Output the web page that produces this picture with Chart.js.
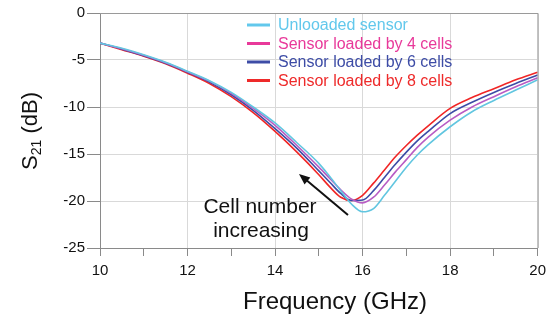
<!DOCTYPE html>
<html>
<head>
<meta charset="utf-8">
<script src="https://cdn.jsdelivr.net/npm/chart.js@4.4.1/dist/chart.umd.min.js"></script>
<style>
  html, body { margin: 0; padding: 0; background: #fff; }
  #wrap { width: 552px; height: 323px; }
</style>
</head>
<body>
<div id="wrap"><canvas id="s21Chart" width="552" height="323"></canvas></div>
<script>
// Frecuencias (GHz) y curvas S21 (dB)
const frecuencias = [10, 10.5, 11, 11.5, 12, 12.5, 13, 13.5, 14, 14.5, 15, 15.25, 15.5, 15.75, 16, 16.25, 16.5, 16.75, 17, 17.25, 17.5, 18, 18.5, 19, 19.5, 20];
const sinCarga = [-3.2, -3.75, -4.45, -5.25, -6.2, -7.2, -8.45, -10.0, -11.7, -13.8, -16.0, -17.4, -18.9, -20.35, -21.15, -20.8, -19.4, -17.9, -16.4, -15.1, -14.0, -12.1, -10.5, -9.3, -8.2, -7.1];
const cargado4 = [-3.2, -3.8, -4.5, -5.3, -6.25, -7.25, -8.55, -10.15, -11.95, -14.1, -16.4, -17.6, -18.8, -19.8, -20.2, -19.6, -18.3, -16.9, -15.6, -14.3, -13.2, -11.4, -10.0, -8.9, -7.85, -6.9];
const cargado6 = [-3.2, -3.85, -4.55, -5.35, -6.3, -7.35, -8.7, -10.35, -12.3, -14.4, -16.8, -18.0, -19.2, -19.95, -19.9, -18.9, -17.5, -16.1, -14.8, -13.6, -12.6, -10.7, -9.5, -8.45, -7.5, -6.6];
const cargado8 = [-3.2, -3.9, -4.6, -5.4, -6.4, -7.5, -8.9, -10.6, -12.6, -14.8, -17.2, -18.5, -19.6, -19.95, -19.4, -18.1, -16.7, -15.3, -14.1, -13.0, -12.0, -10.15, -9.0, -8.05, -7.1, -6.3];

const etiquetas = ["Unlooaded sensor", "Sensor loaded by 4 cells", "Sensor loaded by 6 cells", "Sensor loaded by 8 cells"];
const coloresLinea = ["#62c6e0", "#b85cc4", "#3d4ca6", "#f02626"];
const coloresLeyenda = ["#62c8ec", "#e8399a", "#3d4ca6", "#ee2a2a"];
const ticksY = [0, -5, -10, -15, -20, -25];

const FUENTE = "'Liberation Sans', Arial, sans-serif";

function serie(valores) {
    return frecuencias.map((f, i) => ({ x: f, y: valores[i] }));
}

// Leyenda dentro del área del gráfico
const leyendaPlugin = {
    id: "leyendaInterna",
    afterDatasetsDraw(chart) {
        const ctx = chart.ctx;
        ctx.save();
        ctx.font = "16px " + FUENTE;
        ctx.textBaseline = "middle";
        const ys = [25, 43.5, 62, 80.5];
        etiquetas.forEach((txt, i) => {
            ctx.strokeStyle = coloresLeyenda[i];
            ctx.lineWidth = 3;
            ctx.beginPath();
            ctx.moveTo(247, ys[i]);
            ctx.lineTo(270, ys[i]);
            ctx.stroke();
            ctx.fillStyle = coloresLeyenda[i];
            ctx.fillText(txt, 278, ys[i] + 1);
        });
        ctx.restore();
    }
};

// Títulos de ejes, anotación y flecha
const extrasPlugin = {
    id: "extras",
    afterDraw(chart) {
        const ctx = chart.ctx;
        const area = chart.chartArea;
        ctx.save();
        // marco gris arriba y a la derecha
        ctx.strokeStyle = "#9a9a9a";
        ctx.lineWidth = 1;
        ctx.beginPath();
        ctx.moveTo(area.left, area.top + 0.5);
        ctx.lineTo(area.right + 0.5, area.top + 0.5);
        ctx.lineTo(area.right + 0.5, area.bottom);
        ctx.stroke();

        // título eje X
        ctx.fillStyle = "#111";
        ctx.font = "24px " + FUENTE;
        ctx.textAlign = "center";
        ctx.textBaseline = "middle";
        ctx.fillText("Frequency (GHz)", 335, 302);

        // título eje Y
        ctx.translate(29, 131);
        ctx.rotate(-Math.PI / 2);
        ctx.textAlign = "left";
        ctx.textBaseline = "alphabetic";
        const grande = "22px " + FUENTE;
        const chico = "14px " + FUENTE;
        ctx.font = grande;
        const wS = ctx.measureText("S").width;
        ctx.font = chico;
        const wSub = ctx.measureText("21").width;
        ctx.font = grande;
        const wRest = ctx.measureText(" (dB)").width;
        const total = wS + wSub + wRest;
        let x0 = -total / 2;
        ctx.fillText("S", x0, 8);
        ctx.font = chico;
        ctx.fillText("21", x0 + wS, 12);
        ctx.font = grande;
        ctx.fillText(" (dB)", x0 + wS + wSub, 8);
        ctx.restore();

        ctx.save();
        ctx.fillStyle = "#111";
        ctx.font = "21px " + FUENTE;
        ctx.textAlign = "center";
        ctx.textBaseline = "middle";
        ctx.fillText("Cell number", 260, 207);
        ctx.fillText("increasing", 261, 231);

        // flecha
        const x1 = 348, y1 = 215, x2 = 299, y2 = 174;
        const ang = Math.atan2(y2 - y1, x2 - x1);
        ctx.strokeStyle = "#111";
        ctx.lineWidth = 2;
        ctx.beginPath();
        ctx.moveTo(x1, y1);
        ctx.lineTo(x2 - 6 * Math.cos(ang), y2 - 6 * Math.sin(ang));
        ctx.stroke();
        ctx.beginPath();
        ctx.moveTo(x2, y2);
        ctx.lineTo(x2 - 11 * Math.cos(ang) + 4.5 * Math.sin(ang), y2 - 11 * Math.sin(ang) - 4.5 * Math.cos(ang));
        ctx.lineTo(x2 - 11 * Math.cos(ang) - 4.5 * Math.sin(ang), y2 - 11 * Math.sin(ang) + 4.5 * Math.cos(ang));
        ctx.closePath();
        ctx.fill();
        ctx.restore();
    }
};

const ctx = document.getElementById("s21Chart").getContext("2d");
new Chart(ctx, {
    type: "line",
    data: {
        datasets: [sinCarga, cargado4, cargado6, cargado8].map((vals, i) => ({
            label: etiquetas[i],
            data: serie(vals),
            borderColor: coloresLinea[i],
            backgroundColor: coloresLinea[i],
            borderWidth: 1.6,
            pointRadius: 0,
            cubicInterpolationMode: "monotone",
            fill: false
        }))
    },
    options: {
        responsive: false,
        animation: false,
        devicePixelRatio: 1,
        layout: { padding: { top: 13, right: 12, left: 0, bottom: 0 } },
        plugins: {
            legend: { display: false },
            tooltip: { enabled: false }
        },
        scales: {
            x: {
                type: "linear",
                min: 10,
                max: 20,
                afterFit(scale) { scale.height = 75; },
                ticks: {
                    stepSize: 1,
                    autoSkip: false,
                    maxRotation: 0,
                    padding: 6,
                    color: "#111",
                    font: { family: FUENTE, size: 15 },
                    callback: (v) => (v % 2 === 0 ? v : "")
                },
                grid: {
                    color: (c) => (c.tick && c.tick.value % 2 === 0 ? "#d9d9d9" : "rgba(0,0,0,0)"),
                    tickColor: "#8a8a8a",
                    tickLength: 8,
                    lineWidth: 1
                },
                border: { color: "#8a8a8a", width: 1 }
            },
            y: {
                min: -25,
                max: 0,
                afterFit(scale) { scale.width = 100; },
                afterBuildTicks(scale) { scale.ticks = ticksY.map((v) => ({ value: v })); },
                ticks: {
                    padding: 2,
                    color: "#111",
                    font: { family: FUENTE, size: 15 }
                },
                grid: {
                    color: "#d9d9d9",
                    tickColor: "#8a8a8a",
                    tickLength: 13,
                    lineWidth: 1
                },
                border: { color: "#8a8a8a", width: 1 }
            }
        }
    },
    plugins: [leyendaPlugin, extrasPlugin]
});
</script>
</body>
</html>
